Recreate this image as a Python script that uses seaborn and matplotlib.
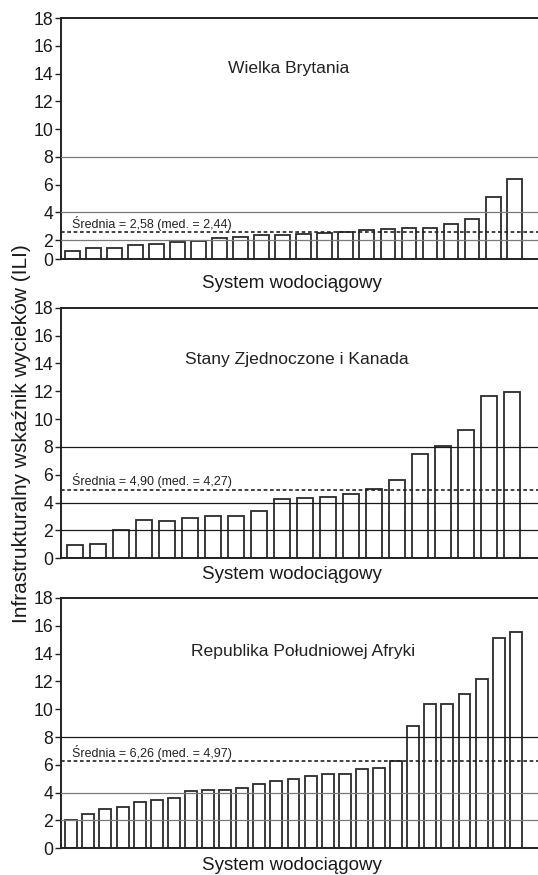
import matplotlib
matplotlib.use("Agg")
import matplotlib.pyplot as plt
import matplotlib.transforms as mtransforms
import seaborn as sns
import pandas as pd

sns.set_style("ticks")
plt.rcParams['font.family'] = ['Liberation Sans', 'DejaVu Sans']

# ---------------- data ----------------
titles = ["Wielka Brytania", "Stany Zjednoczone i Kanada", "Republika Południowej Afryki"]

uk = [1.25, 1.41, 1.44, 1.63, 1.70, 1.89, 1.94, 2.13, 2.23, 2.35, 2.40,
      2.44, 2.51, 2.61, 2.71, 2.78, 2.85, 2.90, 3.14, 3.52, 5.13, 6.42]
usa_can = [0.98, 1.03, 2.01, 2.73, 2.70, 2.87, 3.02, 3.02, 3.37, 4.26,
           4.36, 4.43, 4.64, 5.00, 5.65, 7.47, 8.07, 9.19, 11.66, 11.92]
rpa = [2.01, 2.44, 2.80, 3.00, 3.33, 3.48, 3.62, 4.10, 4.19, 4.22, 4.36,
       4.63, 4.87, 5.01, 5.18, 5.32, 5.35, 5.73, 5.75, 6.30, 8.82, 10.40,
       10.40, 11.07, 12.18, 15.15, 15.53]
series = [uk, usa_can, rpa]

means = [2.58, 4.90, 6.26]
medians = [2.44, 4.27, 4.97]

ref_levels = [2, 4, 8]
ytick_values = [0, 2, 4, 6, 8, 10, 12, 14, 16, 18]
ytick_labels = ["0", "2", "4", "6", "8", "10", "12", "14", "16", "18"]

xlabel_text = "System wodociągowy"
ylabel_text = "Infrastrukturalny wskaźnik wycieków (ILI)"

# ---------------- layout ----------------
W, H = 538, 875
fig = plt.figure(figsize=(W / 100, H / 100), dpi=100)

# pixel boxes: (top, bottom) of each panel
boxes = [(18, 259), (307.7, 558.3), (598, 848.3)]
ax_left_px = 61
ybottoms = [0.65, 0, 0]           # first panel is cropped at the bottom
line_colors = [["#7a7a7a", "#7a7a7a", "#7a7a7a"],
               ["#1a1a1a", "#1a1a1a", "#1a1a1a"],
               ["#7a7a7a", "#7a7a7a", "#1a1a1a"]]
xlims = [(-0.53, 22.13), (-0.6, 20.13), (-0.6, 27.3)]
title_pos = [(0.478, 0.79), (0.494, 0.794), (0.507, 0.785)]
xlabel_y_px = [284, 574.3, 865]

for i, (vals, (top, bot)) in enumerate(zip(series, boxes)):
    ax = fig.add_axes([ax_left_px / W, 1 - bot / H, (W - ax_left_px) / W, (bot - top) / H])
    df = pd.DataFrame({"system": list(range(len(vals))), "ili": vals})
    sns.barplot(data=df, x="system", y="ili", color="white", saturation=1,
                edgecolor="#2b2b2b", linewidth=1.3, width=0.7, ax=ax, zorder=2)
    for patch in ax.patches:
        patch.set_facecolor("white")
        patch.set_clip_on(True)

    for lvl, col in zip(ref_levels, line_colors[i]):
        ax.axhline(lvl, color=col, lw=0.9, zorder=3)
    ax.axhline(means[i], color="#222222", lw=1.2, ls=(0, (2.2, 1.6)), zorder=4)

    trans = mtransforms.blended_transform_factory(ax.transAxes, ax.transData)
    label = f"Średnia = {means[i]:.2f} (med. = {medians[i]:.2f})".replace(".", ",").replace("med,", "med.")
    ax.annotate(label, xy=(0.0237, means[i]), xycoords=trans,
                xytext=(0, 1.2), textcoords="offset points",
                ha="left", va="bottom", fontsize=9, color="#222222", zorder=5)

    ax.text(title_pos[i][0], title_pos[i][1], titles[i], transform=ax.transAxes,
            ha="center", va="center", fontsize=12.6, color="#222222")

    ax.set_xlim(*xlims[i])
    ax.set_ylim(ybottoms[i], 18)
    tv = list(ytick_values)
    tv[0] = ybottoms[i]
    ax.set_yticks(tv)
    ax.set_yticklabels(ytick_labels, fontsize=12.7, color="#1a1a1a")
    ax.set_xticks([])
    ax.set_xlabel("")
    ax.set_ylabel("")
    ax.tick_params(axis="y", length=4, width=1.0, pad=1.5, color="#222222")

    for side in ["left", "bottom", "top"]:
        ax.spines[side].set_visible(True)
        ax.spines[side].set_linewidth(1.4)
        ax.spines[side].set_color("#222222")
    ax.spines["right"].set_visible(False)

    fig.text(292 / W, 1 - xlabel_y_px[i] / H, xlabel_text, ha="center", va="center",
             fontsize=13.5, color="#1a1a1a")

fig.text(21.5 / W, 1 - 434 / H, ylabel_text, rotation=90, ha="center", va="center",
         fontsize=15, color="#1a1a1a")

fig.savefig("out.png", dpi=100)
